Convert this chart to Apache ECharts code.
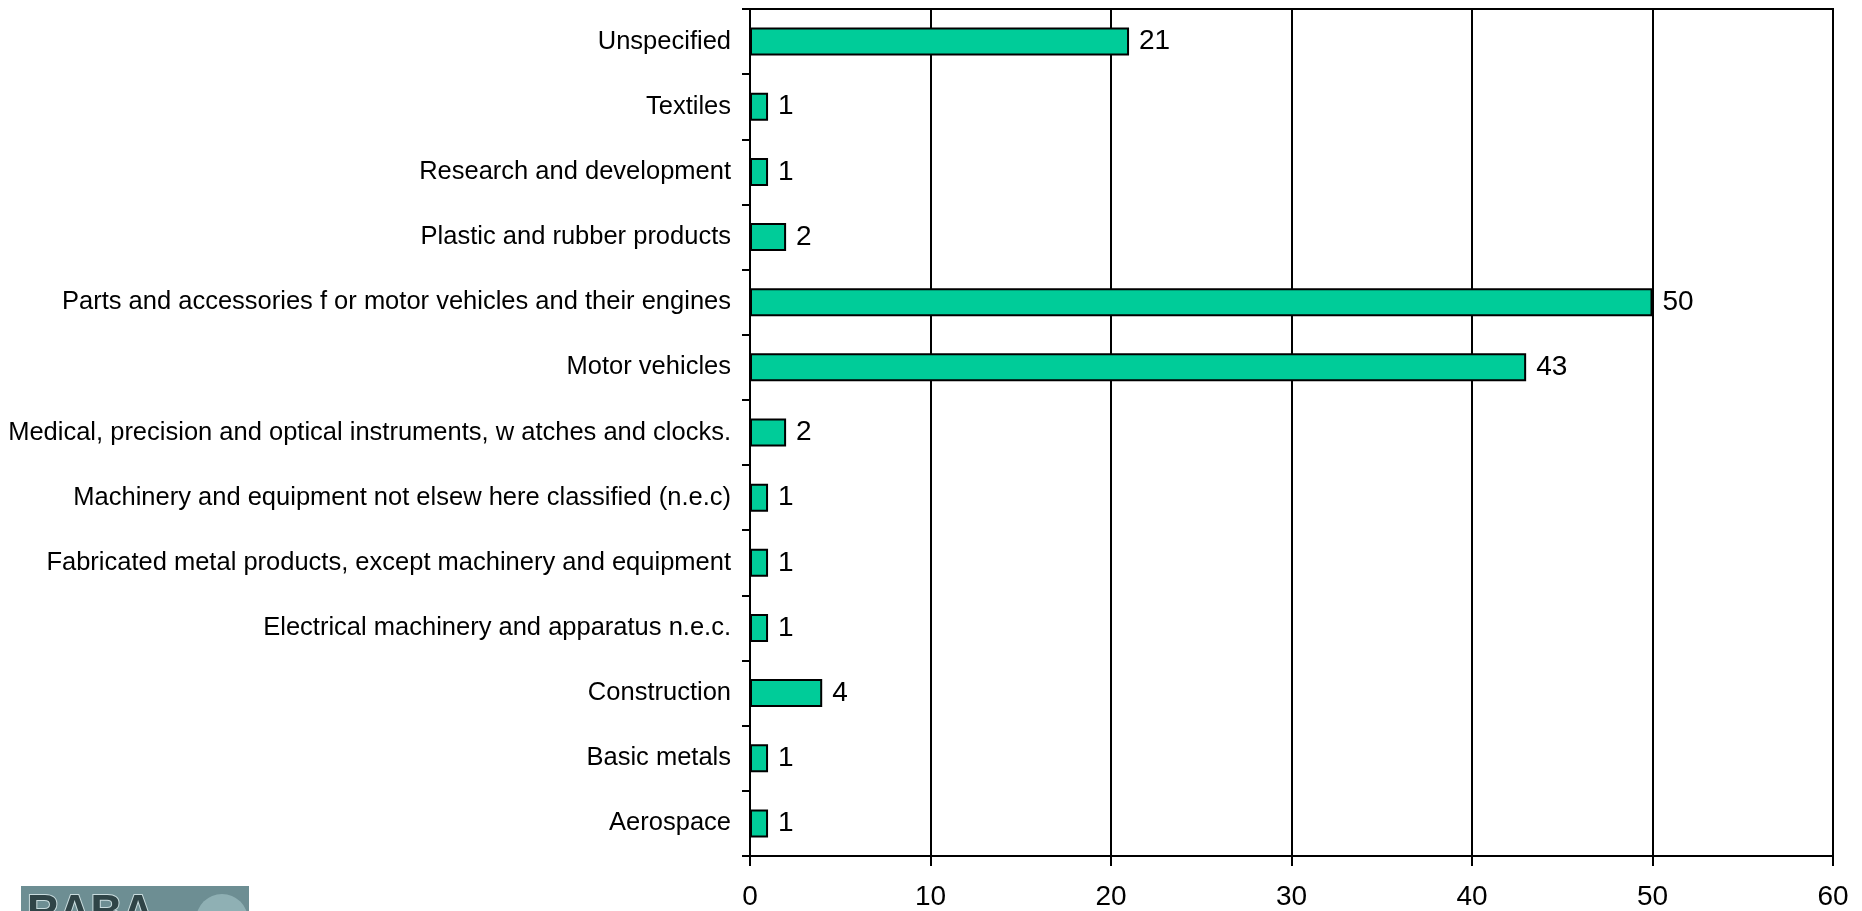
<!DOCTYPE html>
<html>
<head>
<meta charset="utf-8">
<script src="https://cdn.jsdelivr.net/npm/echarts@6/dist/echarts.min.js"></script>
<style>html,body{margin:0;padding:0;background:#fff;}#c{width:1862px;height:911px;}</style>
</head>
<body>
<div id="c"></div>
<script>
var categories = [
  "Aerospace",
  "Basic metals",
  "Construction",
  "Electrical machinery and apparatus n.e.c.",
  "Fabricated metal products, except machinery and equipment",
  "Machinery and equipment not elsew here classified (n.e.c)",
  "Medical, precision and optical instruments, w atches and clocks.",
  "Motor vehicles",
  "Parts and accessories f or motor vehicles and their engines",
  "Plastic and rubber products",
  "Research and development",
  "Textiles",
  "Unspecified"
];
var values = [1, 1, 4, 1, 1, 1, 2, 43, 50, 2, 1, 1, 21];
var xTicks = { min: 0, max: 60, interval: 10 };

var chart = echarts.init(document.getElementById('c'), null, {renderer: 'canvas'});
var font = '"Liberation Sans", Arial, sans-serif';
chart.setOption({
  animation: false,
  backgroundColor: '#ffffff',
  grid: {
    left: 750, right: 29, top: 9, bottom: 55,
    show: true, borderColor: '#000', borderWidth: 2, backgroundColor: 'transparent'
  },
  xAxis: {
    type: 'value',
    min: xTicks.min, max: xTicks.max, interval: xTicks.interval,
    axisLine: { show: true, lineStyle: { color: '#000', width: 2 } },
    axisTick: { show: true, length: 10, lineStyle: { color: '#000', width: 2 } },
    axisLabel: { color: '#000', fontSize: 28, fontFamily: font, margin: 27 },
    splitLine: { show: true, lineStyle: { color: '#000', width: 2 } }
  },
  yAxis: {
    type: 'category',
    data: categories,
    axisLine: { show: true, lineStyle: { color: '#000', width: 2 } },
    axisTick: { show: true, length: 8, lineStyle: { color: '#000', width: 2 } },
    axisLabel: { color: '#000', fontSize: 25.5, fontFamily: font, margin: 19 },
    splitLine: { show: false }
  },
  series: [{
    type: 'bar',
    data: values,
    barWidth: 28,
    itemStyle: { color: '#00CC99', borderColor: '#000', borderWidth: 2 },
    label: {
      show: true, position: 'right', distance: 10,
      color: '#000', fontSize: 28, fontFamily: font
    }
  }],
  graphic: [
    { type: 'rect', left: 21, top: 886, shape: { width: 228, height: 40 }, style: { fill: '#6d8e93' }, silent: true },
    { type: 'circle', shape: { cx: 222, cy: 920, r: 26 }, style: { fill: '#8fb0b4' }, silent: true },
    { type: 'text', left: 26, top: 891, style: { text: 'RABA', fontSize: 44, fontWeight: 'bold', fontFamily: font, fill: '#2f4447', stroke: '#c9dcde', lineWidth: 2 }, silent: true }
  ]
});
</script>
</body>
</html>
